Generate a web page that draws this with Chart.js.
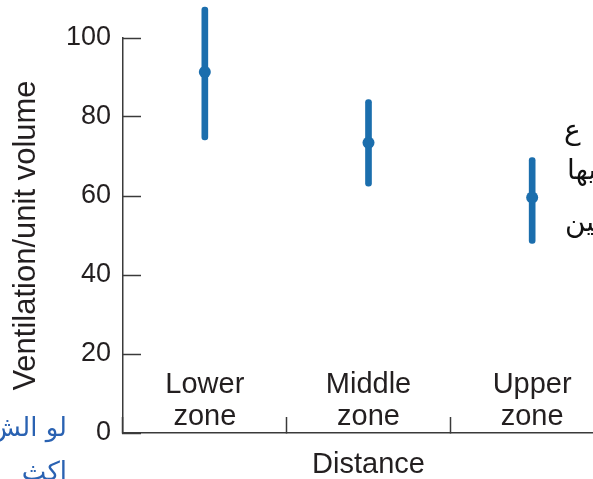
<!DOCTYPE html>
<html>
<head>
<meta charset="utf-8">
<script src="https://cdn.jsdelivr.net/npm/chart.js@4.4.0/dist/chart.umd.min.js"></script>
<style>
  html, body { margin: 0; padding: 0; background: #fff; overflow: hidden; width: 593px; height: 479px; }
  #wrap { position: relative; width: 593px; height: 479px; overflow: hidden; }
  canvas { position: absolute; left: 0; top: 0; }
  .ar { position: absolute; font-family: "DejaVu Sans", sans-serif; direction: rtl; white-space: nowrap; line-height: 1; }
  .blk { color: #111; font-size: 28px; }
  .blu { color: #2a62b2; font-size: 26px; text-align: right; }
</style>
</head>
<body>
<div id="wrap">
  <canvas id="chart" width="620" height="479"></canvas>
  <div class="ar blk" style="left:564px; top:116px;">ع</div>
  <div class="ar blk" style="left:567px; top:156px;">فيها</div>
  <div class="ar blk" style="left:565px; top:208px;">تبين</div>
  <div class="ar blu" style="right:526px; top:414px;">لو الش</div>
  <div class="ar blu" style="right:526px; top:458px;">اكث</div>
</div>
<script>
// ventilation per unit volume by lung zone
const zones = [["Lower", "zone"], ["Middle", "zone"], ["Upper", "zone"]];
const meanVals = [91.4, 73.5, 59.6];
const lowVals = [74.2, 62.5, 48.0];
const highVals = [107.8, 84.4, 69.7];
const yTicks = [0, 20, 40, 60, 80, 100];

const blue = "#1b6ead";
const ink = "#231f20";
const axisCol = "#3a3a3a";

const ranges = lowVals.map((lo, i) => [lo, highVals[i]]);

new Chart(document.getElementById("chart"), {
  data: {
    labels: zones,
    datasets: [
      {
        type: "bar",
        data: ranges,
        backgroundColor: blue,
        barThickness: 6,
        borderRadius: 3,
        borderSkipped: false,
        clip: false,
        order: 2
      },
      {
        type: "line",
        data: meanVals,
        showLine: false,
        pointRadius: 6,
        pointHoverRadius: 6,
        pointBackgroundColor: blue,
        pointBorderWidth: 0,
        clip: false,
        order: 1
      }
    ]
  },
  options: {
    responsive: false,
    animation: false,
    events: [],
    layout: { padding: { left: 0, top: 38, right: 5, bottom: 0 } },
    plugins: { legend: { display: false }, tooltip: { enabled: false } },
    scales: {
      x: {
        type: "category",
        offset: true,
        grid: {
          offset: true,
          drawOnChartArea: false,
          tickLength: -16,
          tickColor: axisCol,
          tickWidth: 1.5
        },
        border: { display: true, color: axisCol, width: 1.5 },
        ticks: {
          color: ink,
          font: { family: "Liberation Sans, Arial, sans-serif", size: 29, lineHeight: 1.1 },
          mirror: true,
          padding: 32,
          maxRotation: 0,
          autoSkip: false
        },
        title: {
          display: true,
          text: "Distance",
          color: ink,
          font: { family: "Liberation Sans, Arial, sans-serif", size: 29, lineHeight: 1 },
          padding: 0
        },
        afterFit: s => { s.height = 46; s.paddingTop = 0; s.paddingBottom = 0; }
      },
      y: {
        min: 0,
        max: 100,
        afterBuildTicks: s => { s.ticks = yTicks.map(v => ({ value: v })); },
        grid: {
          drawOnChartArea: false,
          tickLength: -18,
          tickColor: axisCol,
          tickWidth: 1.5
        },
        border: { display: true, color: axisCol, width: 1.5 },
        ticks: {
          color: ink,
          font: { family: "Liberation Sans, Arial, sans-serif", size: 27 },
          padding: 30
        },
        title: {
          display: true,
          text: "Ventilation/unit volume",
          color: ink,
          font: { family: "Liberation Sans, Arial, sans-serif", size: 31, lineHeight: 1 },
          padding: { top: 11, bottom: 0 }
        },
        afterFit: s => { s.width = 123; s.paddingTop = 0; s.paddingBottom = 0; }
      }
    }
  }
});
</script>
</body>
</html>
